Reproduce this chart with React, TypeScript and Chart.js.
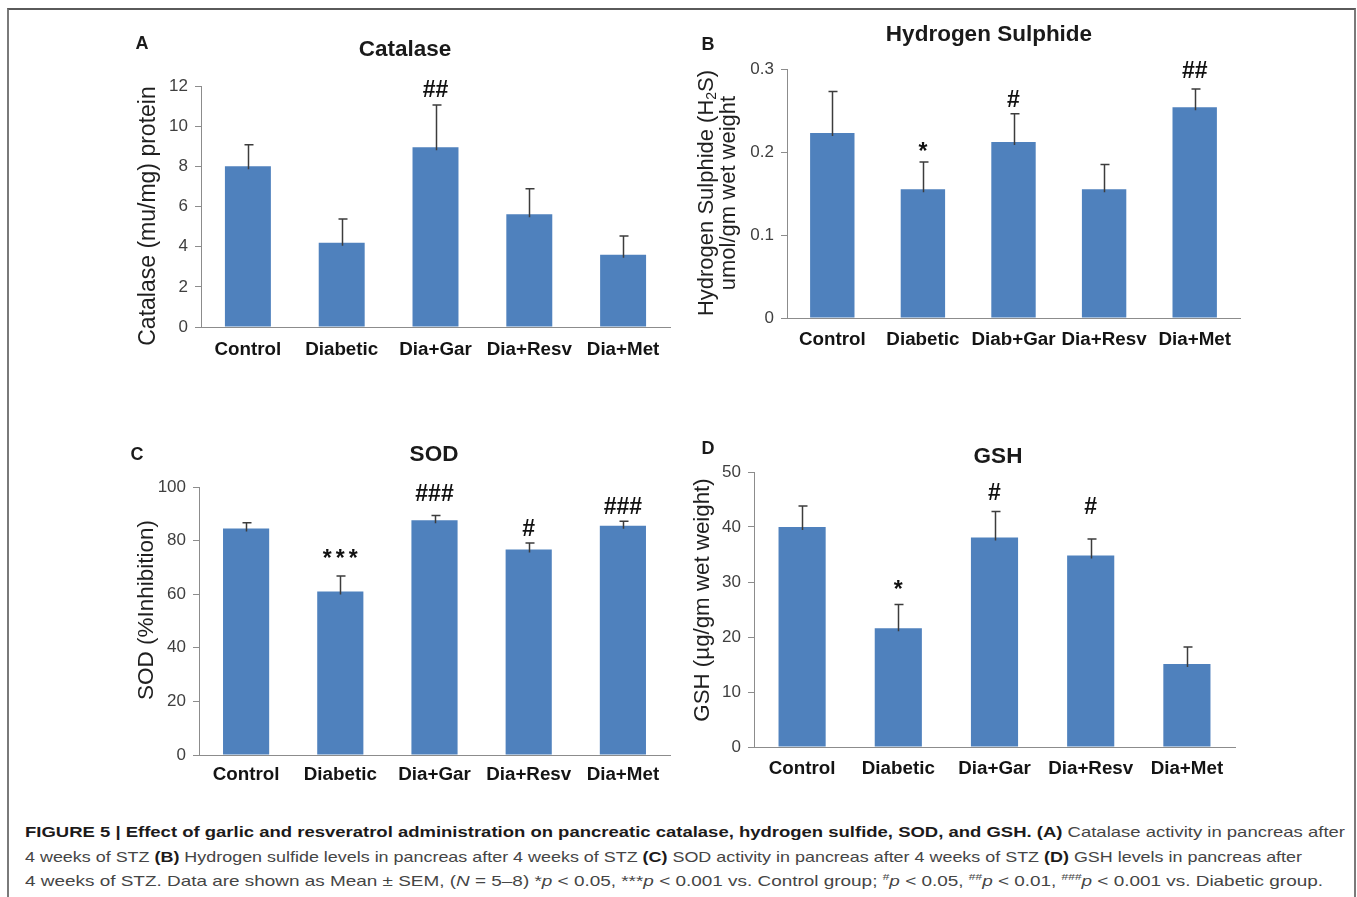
import React, { useEffect, useLayoutEffect, useRef } from 'react';
import { Chart, registerables } from 'chart.js';

Chart.register(...registerables);

const FONT = '"Liberation Sans", Arial, Helvetica, sans-serif';
const BAR = '#4f81bd';
const AXIS = '#8c8c8c';

// ---------- data ----------
const GROUPS = ['Control', 'Diabetic', 'Dia+Gar', 'Dia+Resv', 'Dia+Met'];
const GROUPS_B = ['Control', 'Diabetic', 'Diab+Gar', 'Dia+Resv', 'Dia+Met'];

const CATALASE = [8.0, 4.2, 8.95, 5.62, 3.6];
const CATALASE_SEM = [1.07, 1.18, 2.1, 1.26, 0.93];
const CATALASE_SIG = ['', '', '##', '', ''];
const CATALASE_SIG_AT = [0, 0, 11.9, 0, 0];
const CATALASE_TICKS = [0, 2, 4, 6, 8, 10, 12];
const CATALASE_TICK_LABELS = ['0', '2', '4', '6', '8', '10', '12'];

const H2S = [0.223, 0.155, 0.212, 0.155, 0.254];
const H2S_SEM = [0.05, 0.033, 0.034, 0.03, 0.022];
const H2S_SIG = ['', '*', '#', '', '##'];
const H2S_SIG_AT = [0, 0.207, 0.265, 0, 0.299];
const H2S_TICKS = [0, 0.1, 0.2, 0.3];
const H2S_TICK_LABELS = ['0', '0.1', '0.2', '0.3'];

const SOD = [84.5, 61.0, 87.6, 76.7, 85.5];
const SOD_SEM = [2.2, 5.8, 1.8, 2.4, 1.7];
const SOD_SIG = ['', '***', '###', '#', '###'];
const SOD_SIG_AT = [0, 75.3, 98.0, 85.0, 93.2];
const SOD_TICKS = [0, 20, 40, 60, 80, 100];
const SOD_TICK_LABELS = ['0', '20', '40', '60', '80', '100'];

const GSH = [40.0, 21.6, 38.1, 34.8, 15.1];
const GSH_SEM = [3.8, 4.3, 4.7, 3.0, 3.1];
const GSH_SIG = ['', '*', '#', '#', ''];
const GSH_SIG_AT = [0, 29.5, 46.4, 44.0, 0];
const GSH_TICKS = [0, 10, 20, 30, 40, 50];
const GSH_TICK_LABELS = ['0', '10', '20', '30', '40', '50'];

type Seg = { text: string; size: number; dy: number };

type Panel = {
  key: string;
  box: number[]; // canvas left, top, width, height (page coords)
  area: number[]; // chart area left, top, right, bottom (page coords)
  cats: string[];
  values: number[];
  sem: number[];
  sig: string[];
  sigAt: number[];
  ticks: number[];
  tickLabels: string[];
  title: string;
  titlePos: number[];
  letterPos: number[];
  yTitle: Seg[][];
  yTitleX: number[];
  yTitleY: number;
  xPad: number;
};

const PANELS: Panel[] = [
  {
    key: 'A', box: [110, 10, 580, 370], area: [201, 86, 670, 327],
    cats: GROUPS, values: CATALASE, sem: CATALASE_SEM, sig: CATALASE_SIG, sigAt: CATALASE_SIG_AT,
    ticks: CATALASE_TICKS, tickLabels: CATALASE_TICK_LABELS,
    title: 'Catalase', titlePos: [405, 48], letterPos: [142, 42],
    yTitle: [[{ text: 'Catalase (mu/mg) protein', size: 23, dy: 0 }]], yTitleX: [149], yTitleY: 216, xPad: 12,
  },
  {
    key: 'B', box: [690, 10, 580, 370], area: [787, 69, 1240, 318],
    cats: GROUPS_B, values: H2S, sem: H2S_SEM, sig: H2S_SIG, sigAt: H2S_SIG_AT,
    ticks: H2S_TICKS, tickLabels: H2S_TICK_LABELS,
    title: 'Hydrogen Sulphide', titlePos: [989, 35], letterPos: [708, 43],
    yTitle: [
      [
        { text: 'Hydrogen Sulphide (H', size: 22, dy: 0 },
        { text: '2', size: 14, dy: 5 },
        { text: 'S)', size: 22, dy: 0 },
      ],
      [{ text: 'umol/gm wet weight', size: 22, dy: 0 }],
    ],
    yTitleX: [707, 729], yTitleY: 193, xPad: 11,
  },
  {
    key: 'C', box: [110, 425, 580, 370], area: [199, 487, 670, 755],
    cats: GROUPS, values: SOD, sem: SOD_SEM, sig: SOD_SIG, sigAt: SOD_SIG_AT,
    ticks: SOD_TICKS, tickLabels: SOD_TICK_LABELS,
    title: 'SOD', titlePos: [434, 453], letterPos: [137, 453],
    yTitle: [[{ text: 'SOD (%Inhibition)', size: 22.5, dy: 0 }]], yTitleX: [147], yTitleY: 610, xPad: 9,
  },
  {
    key: 'D', box: [690, 425, 580, 370], area: [754, 472, 1235, 747],
    cats: GROUPS, values: GSH, sem: GSH_SEM, sig: GSH_SIG, sigAt: GSH_SIG_AT,
    ticks: GSH_TICKS, tickLabels: GSH_TICK_LABELS,
    title: 'GSH', titlePos: [998, 455], letterPos: [708, 447],
    yTitle: [[{ text: 'GSH (\u00b5g/gm wet weight)', size: 22.3, dy: 0 }]], yTitleX: [703], yTitleY: 600, xPad: 11,
  },
];

const CAPTION_TARGET_WIDTHS = [1320, 1277, 1298];

function centeredText(ctx: CanvasRenderingContext2D, text: string, x: number, yc: number) {
  const m = ctx.measureText(text);
  ctx.fillText(text, x, yc + (m.actualBoundingBoxAscent - m.actualBoundingBoxDescent) / 2);
}

function makeOverlay(p: Panel) {
  return {
    id: 'overlay' + p.key,
    afterDatasetsDraw(chart: any) {
      const ctx: CanvasRenderingContext2D = chart.ctx;
      const meta = chart.getDatasetMeta(0);
      const ys = chart.scales.y;
      const ox = p.box[0];
      const oy = p.box[1];
      ctx.save();
      // error bars
      ctx.strokeStyle = '#3c3c3c';
      ctx.lineWidth = 1.5;
      meta.data.forEach((bar: any, i: number) => {
        const x = Math.round(bar.x) + 0.5;
        const y0 = ys.getPixelForValue(p.values[i]);
        const y1 = ys.getPixelForValue(p.values[i] + p.sem[i]);
        ctx.beginPath();
        ctx.moveTo(x, y0 + 3);
        ctx.lineTo(x, y1);
        ctx.moveTo(x - 4, y1);
        ctx.lineTo(x + 5, y1);
        ctx.stroke();
      });
      // significance marks
      ctx.fillStyle = '#111';
      ctx.font = `bold 23px ${FONT}`;
      ctx.textAlign = 'center';
      ctx.textBaseline = 'alphabetic';
      p.sig.forEach((s, i) => {
        if (!s) return;
        const x = meta.data[i].x;
        const yc = ys.getPixelForValue(p.sigAt[i]);
        if (s.startsWith('*') && s.length > 1) {
          const step = 13;
          const start = x - ((s.length - 1) * step) / 2;
          for (let k = 0; k < s.length; k++) centeredText(ctx, s[k], start + k * step, yc);
        } else {
          centeredText(ctx, s, x, yc);
        }
      });
      // title & panel letter
      ctx.fillStyle = '#1a1a1a';
      ctx.font = `bold 22.5px ${FONT}`;
      centeredText(ctx, p.title, p.titlePos[0] - ox, p.titlePos[1] - oy);
      ctx.font = `bold 18px ${FONT}`;
      centeredText(ctx, p.key, p.letterPos[0] - ox, p.letterPos[1] - oy);
      // y axis title (rotated)
      ctx.fillStyle = '#1f1f1f';
      ctx.textAlign = 'left';
      ctx.textBaseline = 'middle';
      p.yTitle.forEach((segs, li) => {
        ctx.save();
        ctx.translate(p.yTitleX[li] - ox, p.yTitleY - oy);
        ctx.rotate(-Math.PI / 2);
        let total = 0;
        segs.forEach((sg) => {
          ctx.font = `${sg.size}px ${FONT}`;
          total += ctx.measureText(sg.text).width;
        });
        let cx = -total / 2;
        segs.forEach((sg) => {
          ctx.font = `${sg.size}px ${FONT}`;
          ctx.fillText(sg.text, cx, sg.dy);
          cx += ctx.measureText(sg.text).width;
        });
        ctx.restore();
      });
      ctx.restore();
    },
  };
}

function PanelChart({ p }: { p: Panel }) {
  const ref = useRef<HTMLCanvasElement>(null);
  useEffect(() => {
    const [bl, bt, bw, bh] = p.box;
    const [al, at, ar, ab] = p.area;
    const chart = new Chart(ref.current as HTMLCanvasElement, {
      type: 'bar',
      data: {
        labels: p.cats,
        datasets: [
          {
            data: p.values,
            backgroundColor: BAR,
            borderWidth: 0,
            barPercentage: 0.49,
            categoryPercentage: 1,
          },
        ],
      },
      options: {
        animation: false,
        responsive: false,
        devicePixelRatio: 1,
        layout: { padding: { left: 0, top: at - bt, right: bl + bw - ar, bottom: 0 } },
        plugins: { legend: { display: false }, tooltip: { enabled: false }, title: { display: false } },
        scales: {
          x: {
            grid: { display: true, drawOnChartArea: false, drawTicks: false, color: AXIS },
            border: { display: true, color: AXIS, width: 1 },
            ticks: {
              font: { family: FONT, size: 18.8, weight: 'bold' },
              color: '#141414',
              padding: p.xPad,
              autoSkip: false,
              maxRotation: 0,
              minRotation: 0,
            },
            afterFit: (s: any) => {
              s.height = bt + bh - ab;
            },
          },
          y: {
            min: p.ticks[0],
            max: p.ticks[p.ticks.length - 1],
            grid: { display: true, drawOnChartArea: false, drawTicks: true, tickLength: 6, color: AXIS },
            border: { display: true, color: AXIS, width: 1 },
            ticks: {
              font: { family: FONT, size: 17 },
              color: '#3f3f3f',
              padding: 7,
              callback: (_v: any, i: number) => p.tickLabels[i],
            },
            afterBuildTicks: (s: any) => {
              s.ticks = p.ticks.map((v) => ({ value: v }));
            },
            afterFit: (s: any) => {
              s.width = al - bl;
            },
          },
        },
      } as any,
      plugins: [makeOverlay(p)],
    });
    return () => chart.destroy();
  }, [p]);
  const [bl, bt, bw, bh] = p.box;
  return (
    <canvas
      ref={ref}
      width={bw}
      height={bh}
      style={{ position: 'absolute', left: bl, top: bt, width: bw, height: bh }}
    />
  );
}

function CaptionLine({ target, children }: { target: number; children: React.ReactNode }) {
  const ref = useRef<HTMLDivElement>(null);
  useLayoutEffect(() => {
    const el = ref.current;
    if (!el) return;
    el.style.transform = 'none';
    const w = el.getBoundingClientRect().width;
    if (w > 0) el.style.transform = `scaleX(${target / w})`;
  }, [target]);
  return (
    <div style={{ height: 24.5, lineHeight: '24.5px' }}>
      <div ref={ref} style={{ display: 'inline-block', whiteSpace: 'nowrap', transformOrigin: '0 50%' }}>
        {children}
      </div>
    </div>
  );
}

export default function App() {
  const cap: React.CSSProperties = {
    position: 'absolute',
    left: 25,
    top: 820,
    fontFamily: FONT,
    fontSize: 15,
    color: '#454545',
  };
  const b: React.CSSProperties = { color: '#1c1a1a', fontWeight: 'bold' };
  const sup: React.CSSProperties = { fontSize: 9.5, lineHeight: 0, position: 'relative', top: -6 };
  return (
    <div style={{ position: 'absolute', left: 0, top: 0, width: 1357, height: 897, background: '#fff', overflow: 'hidden' }}>
      <div
        style={{
          position: 'absolute',
          left: 7,
          top: 8,
          width: 1349,
          height: 900,
          boxSizing: 'border-box',
          borderTop: '2px solid #5a5a5a',
          borderLeft: '2px solid #7a7a7a',
          borderRight: '2px solid #7a7a7a',
        }}
      />
      {PANELS.map((p) => (
        <PanelChart key={p.key} p={p} />
      ))}
      <div style={cap}>
        <CaptionLine target={CAPTION_TARGET_WIDTHS[0]}>
          <span style={b}>
            FIGURE 5 | Effect of garlic and resveratrol administration on pancreatic catalase, hydrogen sulfide, SOD,
            and GSH. (A)
          </span>{' '}
          Catalase activity in pancreas after
        </CaptionLine>
        <CaptionLine target={CAPTION_TARGET_WIDTHS[1]}>
          4 weeks of STZ <span style={b}>(B)</span> Hydrogen sulfide levels in pancreas after 4 weeks of STZ{' '}
          <span style={b}>(C)</span> SOD activity in pancreas after 4 weeks of STZ <span style={b}>(D)</span> GSH
          levels in pancreas after
        </CaptionLine>
        <CaptionLine target={CAPTION_TARGET_WIDTHS[2]}>
          4 weeks of STZ. Data are shown as Mean ± SEM, (<i>N</i> = 5–8) *<i>p</i> &lt; 0.05, ***<i>p</i> &lt; 0.001
          vs. Control group; <span style={sup}>#</span>
          <i>p</i> &lt; 0.05, <span style={sup}>##</span>
          <i>p</i> &lt; 0.01, <span style={sup}>###</span>
          <i>p</i> &lt; 0.001 vs. Diabetic group.
        </CaptionLine>
      </div>
    </div>
  );
}
